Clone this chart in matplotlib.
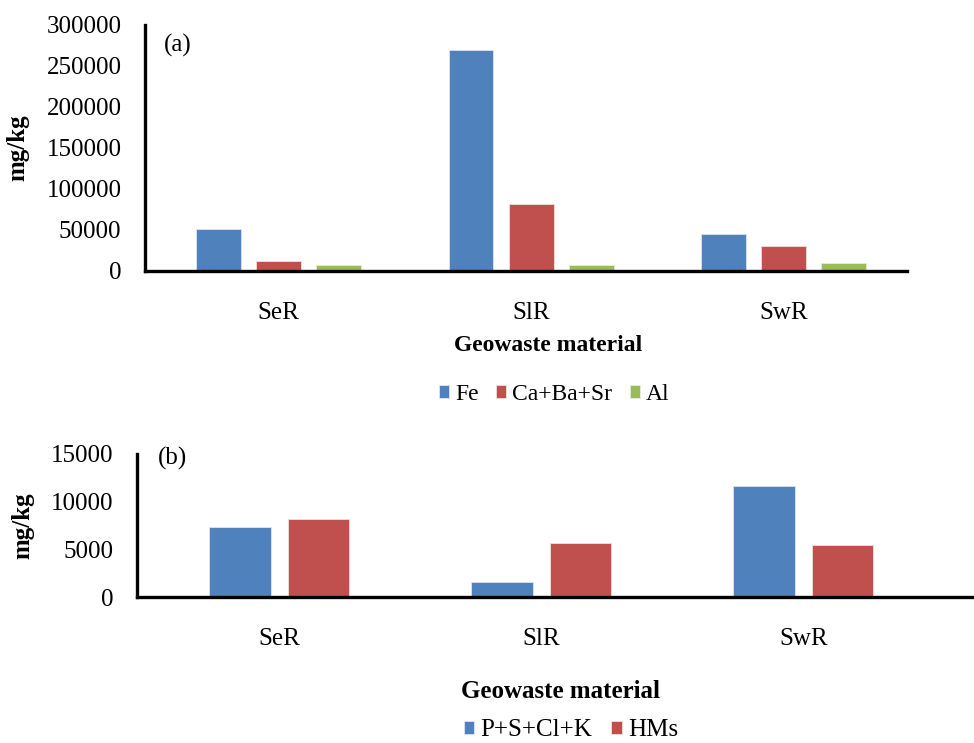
import matplotlib.pyplot as plt
import numpy as np

plt.rcParams["font.family"] = ["Liberation Serif", "DejaVu Serif"]

# Geowaste materials (x categories)
materials = ["SeR", "SlR", "SwR"]

# (a) major elements, mg/kg
fe = [51000, 269000, 45000]
ca_ba_sr = [12000, 82000, 30000]
al = [7000, 7000, 9500]

# (b) minor elements / heavy metals, mg/kg
p_s_cl_k = [7300, 1600, 11650]
hms = [8200, 5700, 5500]

BLUE = "#4F81BD"
RED = "#C0504D"
GREEN = "#9BBB59"

FS = 18

fig = plt.figure(figsize=(9.74, 7.43), dpi=100)
ax1 = fig.add_axes([0.1489, 0.6353, 0.7823, 0.3311])
ax2 = fig.add_axes([0.1407, 0.1965, 0.8593, 0.1925])


def style_axes(ax):
    for side in ["top", "right"]:
        ax.spines[side].set_visible(False)
    for side in ["left", "bottom"]:
        ax.spines[side].set_linewidth(2.4)
        ax.spines[side].set_color("black")
    ax.tick_params(axis="both", length=0, labelsize=FS)
    ax.tick_params(axis="y", pad=17)
    ax.tick_params(axis="x", pad=22)


legend_kw = dict(frameon=False, handlelength=0.42, handleheight=0.42,
                 handletextpad=0.25, columnspacing=0.75)

# ---- panel (a)
x = np.arange(len(materials))
w = 0.178
step = 0.238
ax1.bar(x - step, fe, w, color=BLUE, edgecolor="#dfe6f0", linewidth=0.6, label="Fe")
ax1.bar(x, ca_ba_sr, w, color=RED, edgecolor="#f0dede", linewidth=0.6, label="Ca+Ba+Sr")
ax1.bar(x + step, al, w, color=GREEN, edgecolor="#e6eedb", linewidth=0.6, label="Al")
ax1.set_xlim(-0.53, 2.49)
ax1.set_ylim(0, 300000)
ax1.set_yticks(np.arange(0, 300001, 50000))
ax1.set_xticks(x)
ax1.set_xticklabels(materials)
style_axes(ax1)
ax1.set_ylabel("mg/kg", fontsize=FS, fontweight="bold", labelpad=12)
ax1.set_xlabel("Geowaste material", fontsize=17, fontweight="bold", labelpad=8, x=0.529)
ax1.text(0.025, 0.915, "(a)", transform=ax1.transAxes, fontsize=FS, va="center")
ax1.legend(loc="center", bbox_to_anchor=(0.569, 0.469), bbox_transform=fig.transFigure,
           ncol=3, fontsize=17, **legend_kw)

# ---- panel (b)
w2 = 0.236
step2 = 0.15
ax2.bar(x - step2, p_s_cl_k, w2, color=BLUE, edgecolor="#dfe6f0", linewidth=0.6, label="P+S+Cl+K")
ax2.bar(x + step2, hms, w2, color=RED, edgecolor="#f0dede", linewidth=0.6, label="HMs")
ax2.set_xlim(-0.543, 2.652)
ax2.set_ylim(0, 15000)
ax2.set_yticks(np.arange(0, 15001, 5000))
ax2.set_xticks(x)
ax2.set_xticklabels(materials)
style_axes(ax2)
ax2.set_ylabel("mg/kg", fontsize=FS, fontweight="bold", labelpad=12)
ax2.set_xlabel("Geowaste material", fontsize=FS, fontweight="bold", labelpad=22, x=0.506)
ax2.text(0.025, 0.97, "(b)", transform=ax2.transAxes, fontsize=FS, va="center")
ax2.legend(loc="center", bbox_to_anchor=(0.586, 0.017), bbox_transform=fig.transFigure,
           ncol=2, fontsize=FS, **legend_kw)

fig.savefig("out.png", dpi=100)
